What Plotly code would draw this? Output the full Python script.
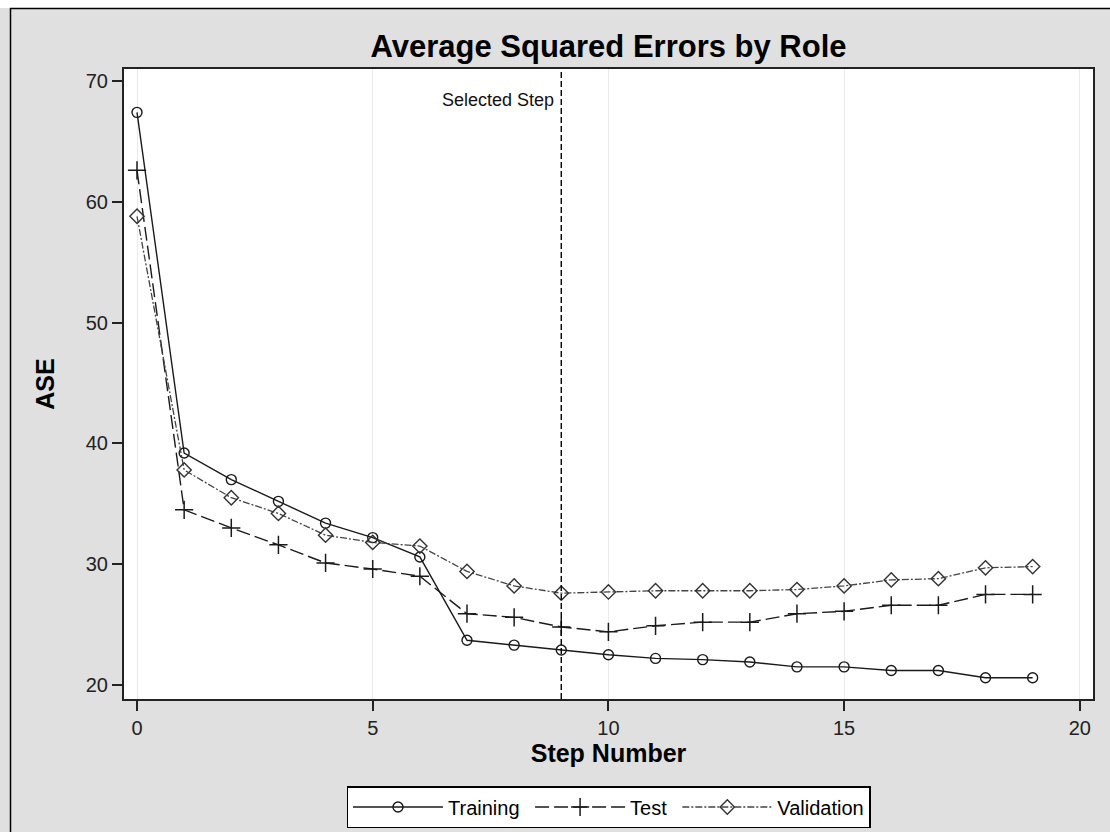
import plotly.graph_objects as go

steps = list(range(20))
training = [67.4, 39.2, 37.0, 35.2, 33.4, 32.2, 30.6, 23.7, 23.3, 22.9,
            22.5, 22.2, 22.1, 21.9, 21.5, 21.5, 21.2, 21.2, 20.6, 20.6]
test = [62.6, 34.5, 33.0, 31.6, 30.1, 29.6, 29.0, 25.9, 25.6, 24.8,
        24.4, 24.9, 25.2, 25.2, 25.9, 26.1, 26.6, 26.6, 27.5, 27.5]
validation = [58.8, 37.8, 35.5, 34.2, 32.4, 31.8, 31.5, 29.4, 28.2, 27.6,
              27.7, 27.8, 27.8, 27.8, 27.9, 28.2, 28.7, 28.8, 29.7, 29.8]
selected_step = 9

FONT = "Liberation Sans, Arial, sans-serif"

# plot-area placement in pixels (figure is 1110 x 832)
W, H = 1110, 832
L, R, T, B = 124, 1093, 69, 699


def px_x(p):
    return (p - L) / (R - L)


def px_y(p):
    return (B - p) / (B - T)


fig = go.Figure()

fig.add_trace(go.Scatter(
    x=steps, y=training, name="Training&nbsp;", mode="lines+markers",
    line=dict(color="#1a1a1a", width=1.4, dash="solid"),
    marker=dict(symbol="circle-open", size=10, color="#1a1a1a",
                line=dict(width=1.4)),
))
fig.add_trace(go.Scatter(
    x=steps, y=test, name="Test&nbsp;", mode="lines+markers",
    line=dict(color="#1a1a1a", width=1.4, dash="14px,5px"),
    marker=dict(symbol="cross-thin-open", size=13, color="#1a1a1a",
                line=dict(width=1.5, color="#1a1a1a")),
))
fig.add_trace(go.Scatter(
    x=steps, y=validation, name="Validation", mode="lines+markers",
    line=dict(color="#444444", width=1.3, dash="7px,2px,2px,2px"),
    marker=dict(symbol="diamond-open", size=11, color="#333333",
                line=dict(width=1.4)),
))

# selected step reference line and its label
fig.add_vline(x=selected_step, line=dict(color="black", width=1.4, dash="6px,3px"))
fig.add_annotation(
    x=selected_step, y=68.4, xref="x", yref="y", text="Selected Step",
    showarrow=False, xanchor="right", xshift=-5,
    font=dict(family=FONT, size=18, color="#111111"),
)

shapes = [
    # white strip outside the frame on the left and top
    dict(type="rect", xref="paper", yref="paper", layer="below",
         x0=px_x(0), x1=px_x(10), y0=px_y(H), y1=px_y(0),
         fillcolor="white", line=dict(width=0)),
    dict(type="rect", xref="paper", yref="paper", layer="below",
         x0=px_x(0), x1=px_x(W), y0=px_y(8), y1=px_y(0),
         fillcolor="white", line=dict(width=0)),
    # outer frame edges
    dict(type="line", xref="paper", yref="paper", x0=px_x(10.5), x1=px_x(10.5),
         y0=px_y(8), y1=px_y(H + 5), line=dict(color="black", width=1.5)),
    dict(type="line", xref="paper", yref="paper", x0=px_x(10), x1=px_x(W + 5),
         y0=px_y(8.5), y1=px_y(8.5), line=dict(color="black", width=1.5)),
]

fig.update_layout(
    width=W, height=H,
    margin=dict(l=L, r=W - R, t=T, b=H - B, autoexpand=False),
    paper_bgcolor="#e0e0e0", plot_bgcolor="white",
    font=dict(family=FONT, color="#222222"),
    title=dict(text="<b>Average Squared Errors by Role</b>",
               x=(L + R) / 2 / W, xanchor="center", y=1 - 46 / H, yanchor="middle",
               font=dict(family=FONT, size=31, color="black")),
    shapes=shapes,
    showlegend=True,
    legend=dict(
        orientation="h", x=0.5, xref="paper", xanchor="center",
        y=px_y(786), yanchor="top",
        bgcolor="white", bordercolor="black", borderwidth=1.5,
        font=dict(family=FONT, size=20, color="black"),
        itemwidth=90, tracegroupgap=0,
    ),
)

fig.update_xaxes(
    range=[-0.276, 20.28], tickvals=[0, 5, 10, 15, 20],
    showgrid=True, gridcolor="#ebebeb", gridwidth=1, zeroline=False,
    showline=True, linecolor="#222222", linewidth=2, mirror=True,
    ticks="outside", ticklen=10, tickcolor="#222222", tickwidth=1.5,
    tickfont=dict(family=FONT, size=20, color="#222222"),
    title=dict(text="<b>Step Number</b>", standoff=0,
               font=dict(family=FONT, size=25, color="black")),
)
fig.update_yaxes(
    range=[18.84, 70.99], tickvals=[20, 30, 40, 50, 60, 70],
    showgrid=False, zeroline=False,
    showline=True, linecolor="#222222", linewidth=2, mirror=True,
    ticks="outside", ticklen=10, tickcolor="#222222", tickwidth=1.5,
    tickfont=dict(family=FONT, size=20, color="#222222"),
    title=dict(text="<b>ASE</b>", standoff=24,
               font=dict(family=FONT, size=25, color="black")),
)

fig.write_html("out.html")
